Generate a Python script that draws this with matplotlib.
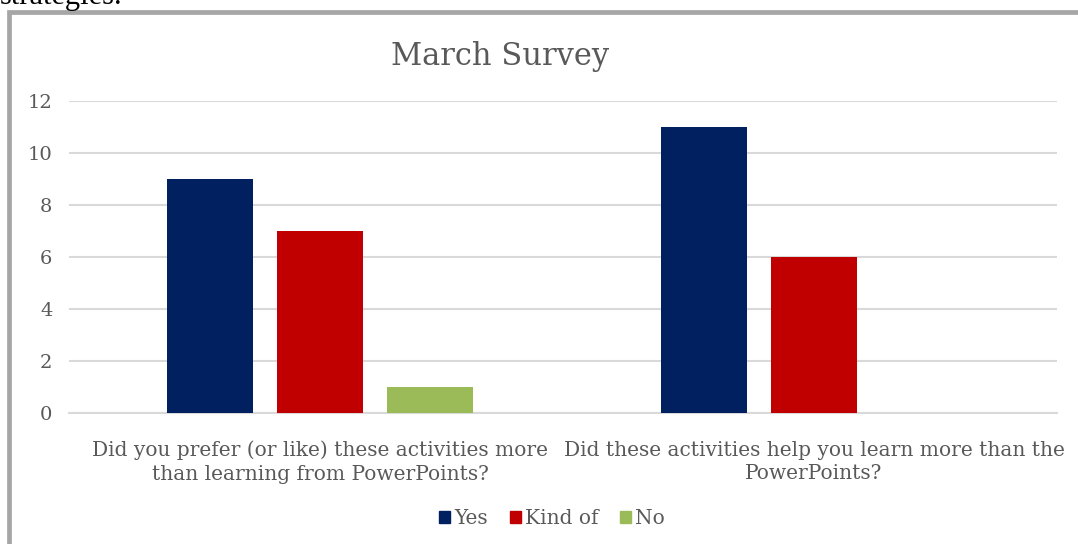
import matplotlib
matplotlib.use("Agg")
import matplotlib.pyplot as plt
from matplotlib.patches import Rectangle, Patch
import numpy as np

questions = [
    "Did you prefer (or like) these activities more\nthan learning from PowerPoints?",
    "Did these activities help you learn more than the\nPowerPoints?",
]
series = ["Yes", "Kind of", "No"]
yes_vals = [9, 11]
kind_vals = [7, 6]
no_vals = [1, 0]
colors = ["#002060", "#c00000", "#9bbb59"]
yticks = [0, 2, 4, 6, 8, 10, 12]

plt.rcParams["font.family"] = ["DejaVu Serif"]
GRAY = "#595959"

fig = plt.figure(figsize=(10.78, 5.44), dpi=100)
ax = fig.add_axes([69 / 1078, 1 - 413 / 544, (1057 - 69) / 1078, (413 - 101) / 544])

x = np.arange(len(questions))
step, width = 0.223, 0.175
for i, (vals, c) in enumerate(zip([yes_vals, kind_vals, no_vals], colors)):
    ax.bar(x + (i - 1) * step, vals, width, color=c, zorder=3, label=series[i])

ax.set_xlim(-0.508, 1.492)
ax.set_ylim(0, 12)
ax.set_yticks(yticks)
ax.yaxis.grid(True, color="#d9d9d9", lw=1.5, zorder=0)
ax.tick_params(axis="y", length=0, pad=12, labelsize=14, labelcolor=GRAY)
ax.set_xticks(x)
ax.set_xticklabels(questions, fontsize=14.5, color=GRAY, linespacing=1.3)
ax.tick_params(axis="x", length=0, pad=20)
for s in ["top", "right", "left"]:
    ax.spines[s].set_visible(False)
ax.spines["bottom"].set_color("#d9d9d9")
ax.spines["bottom"].set_linewidth(1.5)

fig.text(500 / 1078, 1 - 57 / 544, "March Survey", ha="center", va="center",
         fontsize=22, color=GRAY)

handles = [Patch(color=c) for c in colors]
fig.legend(handles, series, loc="center", bbox_to_anchor=(552 / 1078, 1 - 519 / 544),
           ncol=3, frameon=False, fontsize=14.5, labelcolor=GRAY,
           handlelength=0.55, handleheight=0.55, handletextpad=0.2, columnspacing=1.1)

# page frame around the chart and cut-off text above it
fig.patches.append(Rectangle((9 / 1078, -0.1), 1.2, 1 - 11.5 / 544 + 0.1,
                             transform=fig.transFigure, fill=False,
                             edgecolor="#a6a6a6", lw=3.4))
fig.text(0.0, 1 - 4 / 544, "strategies.", ha="left", va="baseline", fontsize=22,
         color="black", family="Liberation Serif")

fig.savefig("out.png", dpi=100)
